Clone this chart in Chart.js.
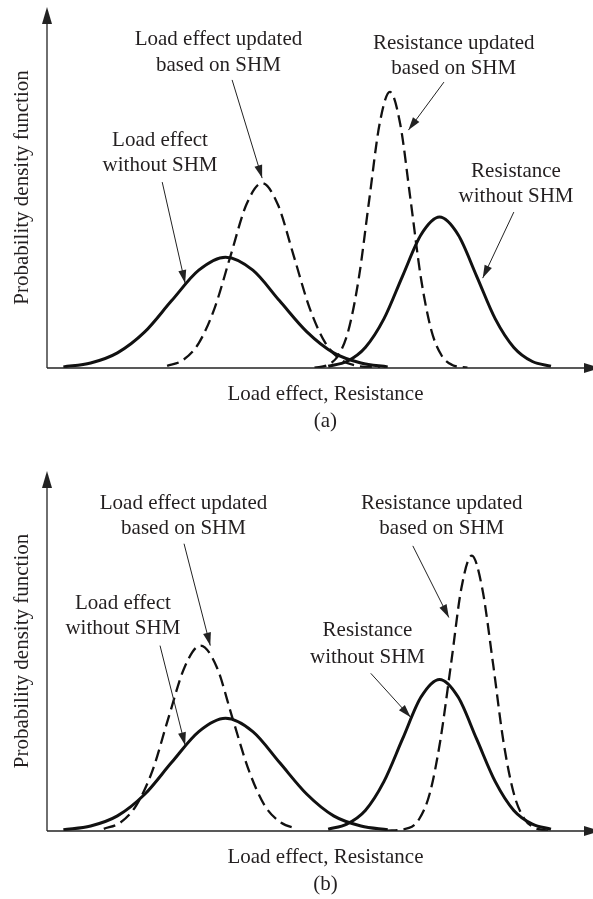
<!DOCTYPE html>
<html>
<head>
<meta charset="utf-8">
<script src="https://cdn.jsdelivr.net/npm/chart.js@4.4.0/dist/chart.umd.min.js"></script>
<style>
  html, body { margin: 0; padding: 0; background: #fff; }
  .panel { position: relative; width: 593px; }
  #wrap-a { height: 440px; }
  #wrap-b { height: 459px; }
</style>
</head>
<body>
<div class="panel" id="wrap-a"><canvas id="chart-a"></canvas></div>
<div class="panel" id="wrap-b"><canvas id="chart-b"></canvas></div>
<script>
// Curves. x: 0-100 along the horizontal axis, y: 0-100 up the vertical axis.

// (a) load effect without SHM (solid)
const loadSolidX_a = [3, 8, 12.9, 17.9, 22.8, 27.8, 32.7, 37.7, 42.6, 47.6, 52.5, 57.5, 62.4];
const loadSolidY_a = [0.3, 1.4, 4.2, 10.0, 18.6, 27.1, 30.7, 27.1, 18.6, 10.0, 4.2, 1.4, 0.3];
// (a) load effect updated (dashed)
const loadDashX_a = [22.0, 24.9, 27.8, 30.7, 33.6, 36.5, 39.4, 42.3, 45.2, 48.1, 51.0, 53.9, 56.8, 61];
const loadDashY_a = [0.6, 2.2, 6.9, 16.6, 31.0, 45.2, 51.2, 45.2, 31.0, 16.6, 6.9, 2.2, 0.6, 0.1];
// (a) resistance updated (dashed)
const resDashX_a = [49, 51.4, 53.3, 55.2, 57.1, 59.0, 60.9, 62.8, 64.7, 66.6, 68.5, 70.4, 72.3, 74.2, 77];
const resDashY_a = [0.1, 0.85, 3.4, 10.4, 24.8, 46.4, 67.5, 76.5, 67.5, 46.4, 24.8, 10.4, 3.4, 0.85, 0.1];
// (a) resistance without SHM (solid)
const resSolidX_a = [51.5, 54.9, 58.3, 61.7, 65.1, 68.5, 71.9, 75.3, 78.7, 82.1, 85.5, 88.9, 92.3];
const resSolidY_a = [0.5, 1.8, 5.7, 13.6, 25.4, 36.9, 41.8, 36.9, 25.4, 13.6, 5.7, 1.8, 0.5];

// (b)
const loadSolidX_b = [3, 8, 12.9, 17.9, 22.8, 27.8, 32.7, 37.7, 42.6, 47.6, 52.5, 57.5, 62.4];
const loadSolidY_b = [0.35, 1.4, 4.2, 10.2, 19.0, 27.6, 31.3, 27.6, 19.0, 10.2, 4.2, 1.4, 0.35];
const loadDashX_b = [10.4, 13.4, 16.3, 19.3, 22.2, 25.2, 28.1, 31.1, 34.0, 37.0, 39.9, 42.9, 45.8];
const loadDashY_b = [0.6, 2.3, 7.0, 16.7, 31.2, 45.5, 51.5, 45.5, 31.2, 16.7, 7.0, 2.3, 0.6];
const resSolidX_b = [51.5, 54.9, 58.3, 61.7, 65.1, 68.5, 71.9, 75.3, 78.7, 82.1, 85.5, 88.9, 92.3];
const resSolidY_b = [0.5, 1.9, 5.7, 13.7, 25.5, 37.2, 42.1, 37.2, 25.5, 13.7, 5.7, 1.9, 0.5];
const resDashX_b = [62, 66.3, 68.2, 70.1, 72.0, 74.0, 75.9, 77.8, 79.7, 81.7, 83.6, 85.5, 87.4, 89.4, 92];
const resDashY_b = [0.1, 0.85, 3.4, 10.4, 24.8, 46.4, 67.5, 76.5, 67.5, 46.4, 24.8, 10.4, 3.4, 0.85, 0.1];

const xTitle = 'Load effect, Resistance';
const yTitle = 'Probability density function';

// callouts: text lines, line centres and arrow (in axis units)
const notes_a = [
    { lines: ['Load effect updated', 'based on SHM'], x: 31.4, y: [90.9, 83.9], from: [33.9, 79.8], to: [39.4, 52.6] },
    { lines: ['Load effect', 'without SHM'], x: 20.7, y: [62.9, 56.2], from: [21.1, 51.5], to: [25.3, 23.5] },
    { lines: ['Resistance updated', 'based on SHM'], x: 74.5, y: [90.0, 83.1], from: [72.7, 79.2], to: [66.2, 65.9] },
    { lines: ['Resistance', 'without SHM'], x: 85.9, y: [54.3, 47.6], from: [85.5, 43.2], to: [79.8, 24.9] }
];
const notes_b = [
    { lines: ['Load effect updated', 'based on SHM'], x: 25.0, y: [90.9, 83.9], from: [25.1, 79.8], to: [29.9, 51.5] },
    { lines: ['Load effect', 'without SHM'], x: 13.9, y: [63.2, 56.2], from: [20.7, 51.5], to: [25.3, 23.8] },
    { lines: ['Resistance updated', 'based on SHM'], x: 72.3, y: [90.9, 83.9], from: [67.0, 79.2], to: [73.6, 59.3] },
    { lines: ['Resistance', 'without SHM'], x: 58.7, y: [55.7, 48.2], from: [59.3, 43.8], to: [66.6, 31.6] }
];

const FONT = '21px "Liberation Serif", "Times New Roman", serif';
const INK = '#231f20';

function pts(xs, ys) {
    return xs.map((x, i) => ({ x: x, y: ys[i] }));
}

function curve(xs, ys, dashed) {
    return {
        data: pts(xs, ys),
        borderColor: '#111',
        borderWidth: dashed ? 2.3 : 3,
        borderDash: dashed ? [12, 6] : [],
        pointRadius: 0,
        fill: false,
        cubicInterpolationMode: 'monotone'
    };
}

function arrowHead(ctx, x0, y0, x1, y1, len, half) {
    const ang = Math.atan2(y1 - y0, x1 - x0);
    ctx.beginPath();
    ctx.moveTo(x1, y1);
    ctx.lineTo(x1 - len * Math.cos(ang) + half * Math.sin(ang), y1 - len * Math.sin(ang) - half * Math.cos(ang));
    ctx.lineTo(x1 - len * Math.cos(ang) - half * Math.sin(ang), y1 - len * Math.sin(ang) + half * Math.cos(ang));
    ctx.closePath();
    ctx.fill();
}

// axes with arrows, titles and callouts
const sketchPlugin = {
    id: 'sketch',
    afterDatasetsDraw(chart, args, opts) {
        const ctx = chart.ctx;
        const a = chart.chartArea;
        const sx = chart.scales.x, sy = chart.scales.y;
        ctx.save();
        ctx.strokeStyle = '#222';
        ctx.fillStyle = '#222';
        ctx.lineWidth = 1.3;

        // y axis
        ctx.beginPath();
        ctx.moveTo(a.left, a.bottom);
        ctx.lineTo(a.left, a.top + 10);
        ctx.stroke();
        arrowHead(ctx, a.left, a.bottom, a.left, a.top, 17, 5);
        // x axis
        ctx.beginPath();
        ctx.moveTo(a.left, a.bottom);
        ctx.lineTo(a.right, a.bottom);
        ctx.stroke();
        arrowHead(ctx, a.left, a.bottom, a.right + 8, a.bottom, 17, 5);

        ctx.fillStyle = INK;
        ctx.font = FONT;
        ctx.textAlign = 'center';
        ctx.textBaseline = 'middle';

        // axis titles and panel letter
        const cx = sx.getPixelForValue(51);
        ctx.fillText(xTitle, cx, a.bottom + 26);
        ctx.fillText(opts.letter, cx, a.bottom + 53);
        ctx.save();
        ctx.translate(22, (a.top + a.bottom) / 2);
        ctx.rotate(-Math.PI / 2);
        ctx.fillText(yTitle, 0, 0);
        ctx.restore();

        // callouts
        opts.notes.forEach(n => {
            n.lines.forEach((t, i) => {
                ctx.fillText(t, sx.getPixelForValue(n.x), sy.getPixelForValue(n.y[i]));
            });
            const x0 = sx.getPixelForValue(n.from[0]), y0 = sy.getPixelForValue(n.from[1]);
            const x1 = sx.getPixelForValue(n.to[0]), y1 = sy.getPixelForValue(n.to[1]);
            ctx.strokeStyle = '#222';
            ctx.fillStyle = '#222';
            ctx.lineWidth = 1;
            ctx.beginPath();
            ctx.moveTo(x0, y0);
            ctx.lineTo(x1, y1);
            ctx.stroke();
            arrowHead(ctx, x0, y0, x1, y1, 13, 4);
            ctx.fillStyle = INK;
        });
        ctx.restore();
    }
};

function makeChart(id, datasets, notes, letter, padTop, padBottom) {
    return new Chart(document.getElementById(id), {
        type: 'line',
        data: { datasets: datasets },
        options: {
            responsive: true,
            maintainAspectRatio: false,
            animation: false,
            layout: { padding: { left: 47, right: 0, top: padTop, bottom: padBottom } },
            scales: {
                x: { type: 'linear', min: 0, max: 100, display: false },
                y: { min: 0, max: 100, display: false }
            },
            plugins: {
                legend: { display: false },
                tooltip: { enabled: false },
                sketch: { notes: notes, letter: letter }
            }
        },
        plugins: [sketchPlugin]
    });
}

makeChart('chart-a', [
    curve(loadSolidX_a, loadSolidY_a, false),
    curve(loadDashX_a, loadDashY_a, true),
    curve(resDashX_a, resDashY_a, true),
    curve(resSolidX_a, resSolidY_a, false)
], notes_a, '(a)', 7, 72);

makeChart('chart-b', [
    curve(loadSolidX_b, loadSolidY_b, false),
    curve(loadDashX_b, loadDashY_b, true),
    curve(resDashX_b, resDashY_b, true),
    curve(resSolidX_b, resSolidY_b, false)
], notes_b, '(b)', 31, 68);
</script>
</body>
</html>
